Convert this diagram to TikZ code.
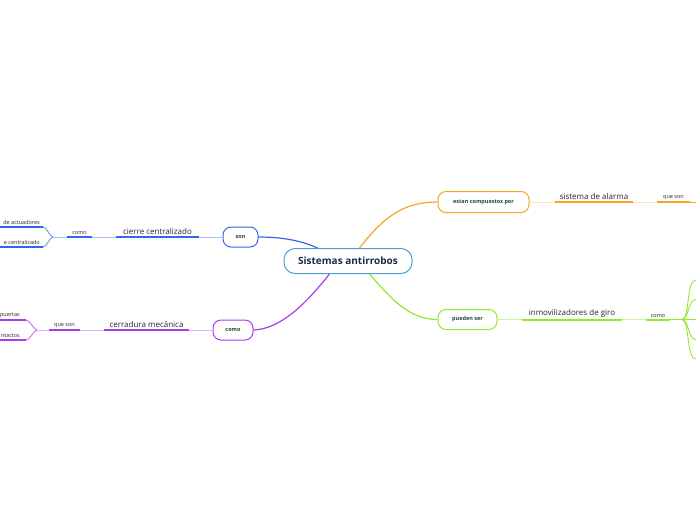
\documentclass[tikz,border=0pt]{standalone}
\usepackage{fontspec}
\setmainfont{Open Sans}
\definecolor{cblue}{HTML}{3366EE}
\definecolor{cbluel}{HTML}{A9C0F7}
\definecolor{ccen}{HTML}{4A9FDB}
\definecolor{cpur}{HTML}{A93CF0}
\definecolor{cpurl}{HTML}{DDB0F8}
\definecolor{corg}{HTML}{F5A623}
\definecolor{corgl}{HTML}{FBE3C0}
\definecolor{cgrn}{HTML}{8FEB2B}
\definecolor{cgrnl}{HTML}{CBF6A4}
\definecolor{ctxt}{HTML}{1E4A3A}
\definecolor{cnavy}{HTML}{1B2A4E}
\begin{document}
\begin{tikzpicture}[x=1pt,y=-1pt,
  topic/.style={draw, line width=1pt, rounded corners=8pt, fill=white, inner sep=0pt,
    text=ctxt, font=\bfseries\fontsize{5.5}{6}\selectfont},
  lbl/.style={anchor=south, inner xsep=0pt, inner ysep=2pt, text=black!85,
    font=\fontsize{8}{9}\selectfont},
  slbl/.style={anchor=south, inner xsep=0pt, inner ysep=2pt, text=black!85,
    font=\fontsize{5.5}{6}\selectfont},
  leaf/.style={anchor=south east, inner xsep=0pt, inner ysep=2pt, text=black!85,
    font=\fontsize{5.5}{6}\selectfont},
  uline/.style={line width=2pt},
  thin/.style={line width=0.9pt}
]
\useasboundingbox (0,0) rectangle (696,520);
\fill[white] (0,0) rectangle (696,520);

% central
\node[draw=ccen, line width=1pt, rounded corners=11pt, fill=white, minimum width=128pt,
  minimum height=25pt, inner sep=0pt, text=cnavy, font=\bfseries\fontsize{10}{12}\selectfont]
  (c) at (348,261) {Sistemas antirrobos};

% ---------- blue branch ----------
\node[topic, draw=cblue, minimum width=35pt, minimum height=20pt] (son) at (240.5,237) {son};
\node[lbl, minimum width=83pt] (cc) at (157.5,237) {cierre centralizado};
\node[slbl, minimum width=25pt] (como1) at (79.5,237) {como};
\coordinate (b1) at (53,237);
\coordinate (l1e) at (43,227);
\coordinate (l1s) at (0,227);
\coordinate (l2e) at (43,247);
\coordinate (l2s) at (0,247);
\node[leaf] (l1) at (40,227) {de actuadores};
\node[leaf] (l2) at (40,247) {e centralizado};
\draw[cblue, line width=1.2pt] ([xshift=34pt]c.north west) .. controls (300,240) and (280,237) .. (son.east);
\draw[cbluel, thin] (son.west) -- (cc.south east);
\draw[cblue, uline] (cc.south west) -- (cc.south east);
\draw[cbluel, thin] (cc.south west) -- (como1.south east);
\draw[cblue, uline] (como1.south west) -- (como1.south east);
\draw[cbluel, thin] (como1.south west) -- (b1);
\draw[cblue!70, thin] (b1) .. controls (49,236) and (47,227) .. (l1e);
\draw[cblue!70, thin] (b1) .. controls (49,238) and (47,247) .. (l2e);
\draw[cblue, uline] (l1s) -- (l1e);
\draw[cblue, uline] (l2s) -- (l2e);

% ---------- purple branch ----------
\node[topic, draw=cpur, minimum width=40pt, minimum height=20pt] (como2) at (233,330) {como};
\node[lbl, minimum width=85pt] (cm) at (146.5,330) {cerradura mecánica};
\node[slbl, minimum width=31pt] (qs1) at (64.5,330) {que son};
\coordinate (b2) at (37,330);
\coordinate (p1e) at (26,320);
\coordinate (p1s) at (0,320);
\coordinate (p2e) at (26,340);
\coordinate (p2s) at (0,340);
\node[leaf] (p1) at (20,320) {puertas};
\node[leaf] (p2) at (20,340) {ntactos};
\draw[cpur, line width=1.2pt] ([xshift=46pt]c.south west) .. controls (305,305) and (280,329) .. (como2.east);
\draw[cpurl, thin] (como2.west) -- (cm.south east);
\draw[cpur, uline] (cm.south west) -- (cm.south east);
\draw[cpurl, thin] (cm.south west) -- (qs1.south east);
\draw[cpur, uline] (qs1.south west) -- (qs1.south east);
\draw[cpurl, thin] (qs1.south west) -- (b2);
\draw[cpur!70, thin] (b2) .. controls (33,329) and (30,320) .. (p1e);
\draw[cpur!70, thin] (b2) .. controls (33,331) and (30,340) .. (p2e);
\draw[cpur, uline] (p1s) -- (p1e);
\draw[cpur, uline] (p2s) -- (p2e);

% ---------- orange branch ----------
\node[topic, draw=corg, minimum width=91pt, minimum height=21pt] (ecp) at (483.5,202) {estan compuestos por};
\node[lbl, minimum width=78pt] (sa) at (594,202) {sistema de alarma};
\node[slbl, minimum width=33pt] (qs2) at (673.5,202) {que son};
\coordinate (oend) at (696,202);
\draw[corg, line width=1.2pt] ([xshift=76pt]c.north west) .. controls (385,215) and (405,202) .. (ecp.west);
\draw[corgl, thin] (ecp.east) -- (sa.south west);
\draw[corg, uline] (sa.south west) -- (sa.south east);
\draw[corgl, thin] (sa.south east) -- (qs2.south west);
\draw[corg, uline] (qs2.south west) -- (qs2.south east);
\draw[corg, thin] (qs2.south east) -- (oend);

% ---------- green branch ----------
\node[topic, draw=cgrn, minimum width=59pt, minimum height=20pt] (ps) at (467.5,319.5) {pueden ser};
\node[lbl, minimum width=100pt] (ig) at (572,319.5) {inmovilizadores de giro};
\node[slbl, minimum width=24pt] (como3) at (658,319.5) {como};
\coordinate (b3) at (682,319.5);
\foreach \i/\yy in {1/280,2/299.5,3/319.5,4/339.5,5/359}{
  \coordinate (g\i) at (696,\yy);
}
\draw[cgrn, line width=1.2pt] ([xshift=86pt]c.south west) .. controls (392,300) and (410,319.5) .. (ps.west);
\draw[cgrnl, thin] (ps.east) -- (ig.south west);
\draw[cgrn, uline] (ig.south west) -- (ig.south east);
\draw[cgrnl, thin] (ig.south east) -- (como3.south west);
\draw[cgrn, uline] (como3.south west) -- (como3.south east);
\draw[cgrn, thin] (como3.south east) -- (b3);
\draw[cgrn, thin] (b3) .. controls (690,319) and (686,280) .. (g1);
\draw[cgrn, thin] (b3) .. controls (689,319) and (688,299.5) .. (g2);
\draw[cgrn, thin] (b3) -- (g3);
\draw[cgrn, thin] (b3) .. controls (689,320) and (688,339.5) .. (g4);
\draw[cgrn, thin] (b3) .. controls (690,320) and (686,359) .. (g5);
\end{tikzpicture}
\end{document}
